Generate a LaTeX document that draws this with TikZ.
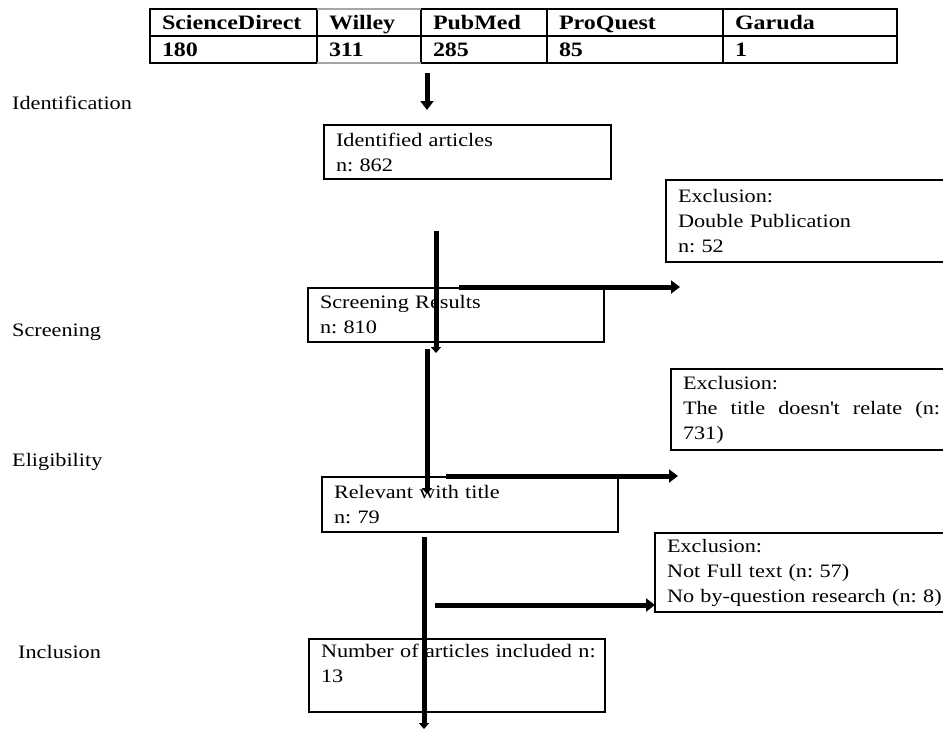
\documentclass[tikz,border=0pt]{standalone}
\usepackage{fontspec}
\setmainfont{Liberation Serif}[FakeStretch=1.17]
\usetikzlibrary{arrows.meta}
\begin{document}
\frenchspacing
\begin{tikzpicture}[x=1pt,y=-1pt,
  lbl/.style={anchor=west, inner sep=0pt, font=\fontsize{19}{25}\selectfont},
  box/.style={draw, line width=1.4pt, anchor=north west, outer sep=0pt, inner xsep=12pt, inner ysep=0pt, align=left, font=\fontsize{19}{25}\selectfont},
  cell/.style={draw, line width=1.8pt, anchor=north west, outer sep=0pt, inner xsep=12pt, inner ysep=0pt, minimum height=27pt, text height=15pt, text depth=2pt, align=left, font=\bfseries\fontsize{20.5}{22}\selectfont},
  flow/.style={line width=5pt, -{Triangle[width=13pt,length=9pt]}},
  flowsmall/.style={line width=5pt, -{Triangle[width=10pt,length=6pt]}}
]
\useasboundingbox (0,0) rectangle (943,729);
\clip (0,0) rectangle (943,729);
\fill[white] (0,0) rectangle (943,729);

% table
\node[cell, text width=143pt] (c1) at (150,9) {ScienceDirect};
\node[cell, text width=80pt] (c2) at (317,9) {Willey};
\node[cell, text width=102pt] (c3) at (421,9) {PubMed};
\node[cell, text width=152pt] (c4) at (547,9) {ProQuest};
\node[cell, text width=150pt] (c5) at (723,9) {Garuda};
\node[cell, text width=143pt] (d1) at (150,36) {180};
\node[cell, text width=80pt] (d2) at (317,36) {311};
\node[cell, text width=102pt] (d3) at (421,36) {285};
\node[cell, text width=152pt] (d4) at (547,36) {85};
\node[cell, text width=150pt] (d5) at (723,36) {1};
\draw[gray!70, line width=1.4pt] (c2.north west) -- (c2.north east);
\draw[gray!70, line width=1.4pt] (d2.south west) -- (d2.south east);

% stage labels
\node[lbl] (sid) at (12,103) {Identification};
\node[lbl] (ssc) at (12,332) {Screening};
\node[lbl] (sel) at (12,462) {Eligibility};
\node[lbl] (sin) at (18,652) {Inclusion};

% boxes
\node[box, text width=263pt, minimum height=54pt] (ident) at (324,125) {Identified articles\\n: 862};
\node[box, text width=272pt, minimum height=54pt] (scr) at (308,288) {Screening Results\\n: 810};
\node[box, text width=272pt, minimum height=55pt] (rel) at (322,477) {Relevant with title\\n: 79};
\node[box, text width=272pt, minimum height=73pt] (inc) at (309,639) {\mbox{Number of articles included n:}\\13\\\mbox{}};

\node[box, text width=266pt, minimum height=82pt] (ex1) at (666,180) {Exclusion:\\Double Publication\\n: 52};
\node[box, text width=257pt, minimum height=81pt, align=justify] (ex2) at (671,369) {Exclusion:\par The title doesn\textquotesingle t relate (n: 731)};
\node[box, text width=280pt, minimum height=79pt] (ex3) at (655,533) {Exclusion:\\Not Full text (n: 57)\\\mbox{No by-question research (n: 8)}};

% connector end points
\coordinate (a0) at (427,73);
\coordinate (a1) at (427,110);
\coordinate (v1s) at (436,231);
\coordinate (v1e) at (436,353);
\coordinate (v2s) at (427,349);
\coordinate (v2e) at (427,494);
\coordinate (v3s) at (424,537);
\coordinate (v3e) at (424,729);
\coordinate (h1s) at (459,287);
\coordinate (h1e) at (680,287);
\coordinate (h2s) at (446,476);
\coordinate (h2e) at (678,476);
\coordinate (h3s) at (435,605);

\draw[flow] (a0) -- (a1);
\draw[flowsmall] (v1s) -- (v1e);
\draw[flowsmall] (v2s) -- (v2e);
\draw[flowsmall] (v3s) -- (v3e);
\draw[flow] (h1s) -- (h1e);
\draw[flow] (h2s) -- (h2e);
\draw[flow] (h3s) -- (h3s -| ex3.west);
\end{tikzpicture}
\end{document}
